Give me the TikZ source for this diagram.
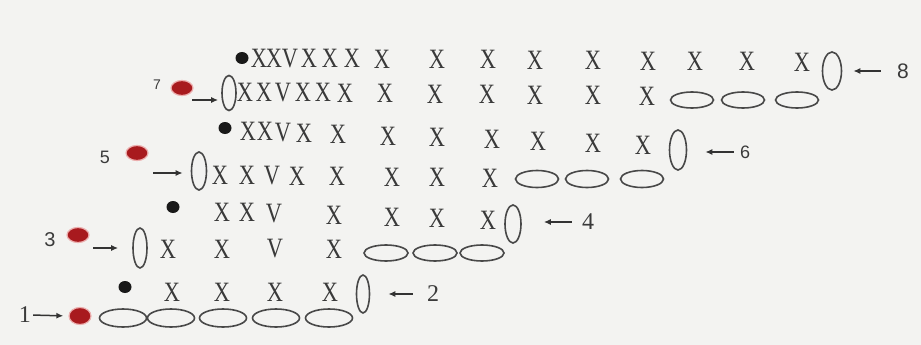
\documentclass[tikz,border=0pt]{standalone}
\usepackage{fontspec}
\setmainfont{Liberation Serif}
\newfontfamily\labsans{Liberation Sans}
\usetikzlibrary{shapes.geometric,arrows.meta}
\definecolor{bgc}{RGB}{243,243,241}
\definecolor{ink}{RGB}{58,58,58}
\definecolor{ring}{RGB}{72,72,72}
\definecolor{reddot}{RGB}{168,26,30}
\definecolor{halo}{RGB}{236,175,175}
\newcommand\glyphx[1]{\scalebox{0.8}[1]{#1}}
\begin{document}
\begin{tikzpicture}[x=1pt,y=-1pt,
  st/.style={font=\fontsize{28}{28}\selectfont, text=ink, inner sep=0pt},
  vov/.style={ellipse, draw=ring, line width=1.6pt, inner sep=0pt, minimum width=15pt, minimum height=38pt},
  hov/.style={ellipse, draw=ring, line width=1.6pt, inner sep=0pt, minimum width=44pt, minimum height=16pt},
  bdot/.style={ellipse, fill=black!90, inner sep=0pt, minimum width=13pt, minimum height=12pt},
  rdot/.style={ellipse, fill=reddot, draw=halo, line width=1.2pt, inner sep=0pt, minimum width=22pt, minimum height=15pt},
  arr/.style={-{Latex[length=7pt,width=6pt]}, line width=1.5pt, draw=black!80},
  numserif/.style={text=ink, inner sep=0pt, font=\fontsize{24}{24}\selectfont},
  numsans/.style={text=ink, inner sep=0pt, font=\labsans\fontsize{18}{18}\selectfont}]
\useasboundingbox (0,0) rectangle (921,345);
\fill[bgc] (0,0) rectangle (921,345);

% ---------- row 8 ----------
\node[bdot] (d8) at (242,58) {};
\foreach \x/\t [count=\i] in {259/X,274/X,290/V,309/X,330/X,352/X,382/X,437/X,488/X,535/X,593/X,648/X,695/X,747/X,802/X}
  \node[st] (r8x\i) at (\x,{58+4*(\x-259)/543}) {\glyphx{\t}};
\node[vov, minimum width=19pt] (e8) at (832,71) {};
\node[numsans, font=\labsans\fontsize{21}{21}\selectfont] (n8) at (903,71) {8};
\draw[arr, shorten >=11pt, shorten <=16pt] (n8.west) -- (e8.east);

% ---------- row 7 ----------
\node[numsans, font=\labsans\fontsize{14}{14}\selectfont] (n7) at (157,85) {7};
\node[rdot] (rd7) at (182,88) {};
\node[vov, minimum width=14pt, minimum height=35pt] (e7) at (229,93) {};
\coordinate (a7) at (192,100);
\draw[arr, shorten >=3pt] (a7) -- (a7 -| e7.west);
\foreach \x/\t [count=\i] in {245/X,264/X,283/V,303/X,323/X,345/X,385/X,435/X,487/X,535/X,593/X,647/X}
  \node[st] (r7x\i) at (\x,{92+4*(\x-245)/402}) {\glyphx{\t}};
\foreach \x [count=\i] in {692,743,797}
  \node[hov, minimum width=43pt] (c7\i) at (\x,100) {};

% ---------- row 6 ----------
\node[bdot] (d6) at (225,128) {};
\foreach \x/\t [count=\i] in {248/X,265/X,283/V,304/X,338/X,388/X,437/X,492/X,538/X,593/X,643/X}
  \node[st] (r6x\i) at (\x,{131+14*(\x-248)/395}) {\glyphx{\t}};
\node[vov, minimum width=17pt, minimum height=40pt] (e6) at (678,150) {};
\node[numsans] (n6) at (745,152) {6};
\draw[arr, shorten >=18pt, shorten <=6pt] (n6.west) -- (n6.west -| e6.east);

% ---------- row 5 ----------
\node[numsans] (n5) at (105,157) {5};
\node[rdot] (rd5) at (137,153) {};
\node[vov] (e5) at (199,171) {};
\coordinate (a5) at (153,173);
\draw[arr, shorten >=8pt] (a5) -- (a5 -| e5.west);
\foreach \x/\t [count=\i] in {220/X,247/X,272/V,297/X,337/X,392/X,437/X,490/X}
  \node[st] (r5x\i) at (\x,{175+3*(\x-220)/270}) {\glyphx{\t}};
\foreach \x [count=\i] in {537,587,642}
  \node[hov, minimum width=43pt, minimum height=17pt] (c5\i) at (\x,179) {};

% ---------- row 4 ----------
\node[bdot] (d4) at (173,207) {};
\foreach \x/\t [count=\i] in {222/X,247/X,274/V,334/X,392/X,437/X,488/X}
  \node[st] (r4x\i) at (\x,{212+8*(\x-222)/266}) {\glyphx{\t}};
\node[vov, minimum width=16pt] (e4) at (513,224) {};
\node[numserif] (n4) at (588,222) {4};
\draw[arr, shorten >=22pt, shorten <=10pt] (n4.west) -- (n4.west -| e4.east);

% ---------- row 3 ----------
\node[numsans, font=\labsans\fontsize{20}{20}\selectfont] (n3) at (50,240) {3};
\node[rdot] (rd3) at (78,235) {};
\node[vov, minimum width=14pt, minimum height=40pt] (e3) at (140,248) {};
\coordinate (a3) at (93,248);
\draw[arr, shorten >=14pt] (a3) -- (e3.west);
\foreach \x/\t [count=\i] in {168/X,222/X,275/V,334/X}
  \node[st] (r3x\i) at (\x,249) {\glyphx{\t}};
\foreach \x [count=\i] in {386,435,482}
  \node[hov] (c3\i) at (\x,253) {};

% ---------- row 2 ----------
\node[bdot] (d2) at (125,287) {};
\foreach \x/\t [count=\i] in {172/X,222/X,275/X,330/X}
  \node[st] (r2x\i) at (\x,292) {\glyphx{\t}};
\node[vov, minimum width=13pt] (e2) at (363,294) {};
\node[numserif] (n2) at (433,294) {2};
\draw[arr, shorten >=18pt, shorten <=14pt] (n2.west) -- (n2.west -| e2.east);

% ---------- row 1 ----------
\node[numserif] (n1) at (25,315) {1};
\node[rdot, minimum height=17pt] (rd1) at (80,316) {};
\draw[arr, shorten >=5pt, shorten <=2pt] (n1.east) -- (rd1.west);
\foreach \x [count=\i] in {123,171,223,276,329}
  \node[hov, minimum width=47pt, minimum height=18pt] (c1\i) at (\x,318) {};
\end{tikzpicture}
\end{document}
